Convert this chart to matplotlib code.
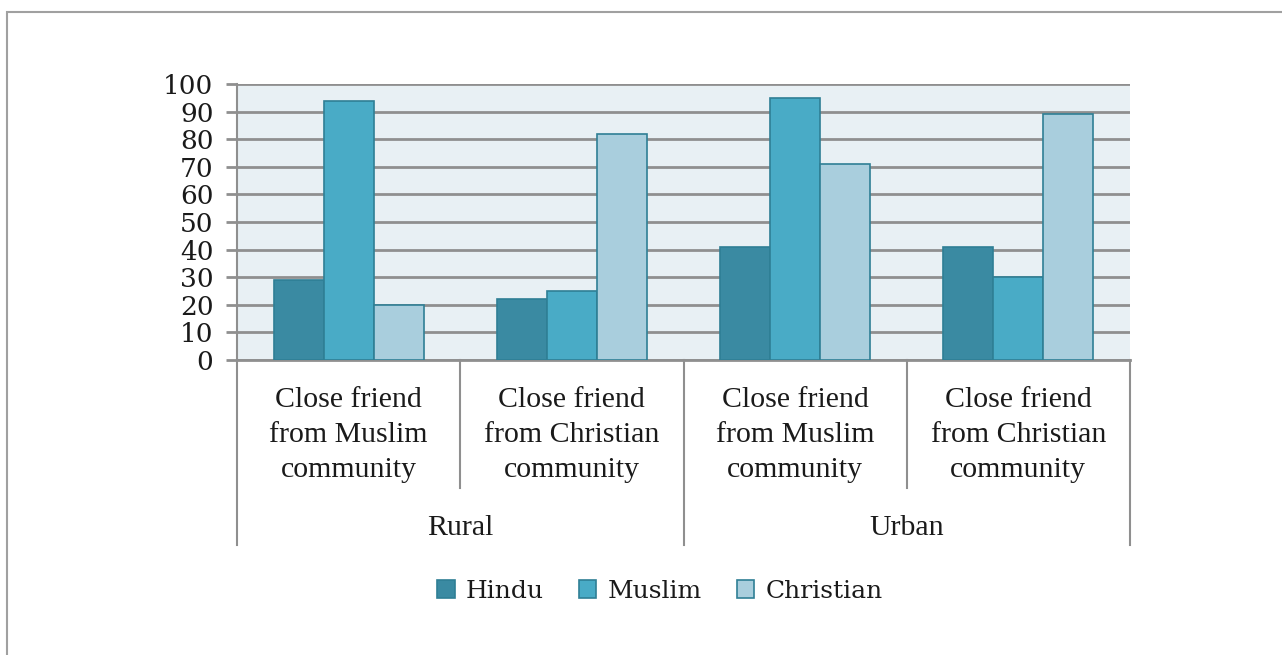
import matplotlib.pyplot as plt
from matplotlib.patches import Rectangle
from matplotlib.transforms import blended_transform_factory

# Share of respondents (%) with a close friend from another community
categories = [
    "Close friend\nfrom Muslim\ncommunity",
    "Close friend\nfrom Christian\ncommunity",
    "Close friend\nfrom Muslim\ncommunity",
    "Close friend\nfrom Christian\ncommunity",
]
groups = ["Rural", "Urban"]
series_names = ["Hindu", "Muslim", "Christian"]
hindu = [29, 22, 41, 41]
muslim = [94, 25, 95, 30]
christian = [20, 82, 71, 89]
y_ticks = list(range(0, 101, 10))

colors = ["#3a8aa2", "#49abc6", "#a9cedd"]
edge = "#2f7f95"
grid_gray = "#8f8f8f"
label_font = "Liberation Serif"
tick_font = "DejaVu Serif"

fig = plt.figure(figsize=(12.82, 6.55), dpi=100)
fig.patch.set_facecolor("white")

# thin frame around the whole chart
fig.add_artist(Rectangle((7 / 1282, -0.01), 1.1, 1 - 12 / 655 + 0.01, transform=fig.transFigure,
                         fill=False, edgecolor="#a0a0a0", linewidth=1.5))

ax = fig.add_axes([237 / 1282, 1 - 360 / 655, (1130 - 237) / 1282, (360 - 84) / 655])
ax.set_facecolor("#e8f0f4")

width = 0.224
xs = list(range(len(categories)))
for offset, values, color, name in zip([-1, 0, 1], [hindu, muslim, christian], colors, series_names):
    ax.bar([x + offset * width for x in xs], values, width=width, color=color,
           edgecolor=edge, linewidth=1.2, label=name, zorder=3)

ax.set_xlim(-0.5, len(categories) - 0.5)
ax.set_ylim(0, 100)
ax.set_yticks(y_ticks)
ax.set_yticklabels([str(t) for t in y_ticks], fontfamily=tick_font, fontsize=19, color="#1a1a1a")
ax.tick_params(axis="y", length=8, width=2, color=grid_gray, pad=9)
ax.yaxis.grid(True, color=grid_gray, linewidth=2, zorder=1)
ax.set_axisbelow(True)
ax.set_xticks([])

for side in ["top", "right"]:
    ax.spines[side].set_visible(False)
ax.spines["left"].set_color(grid_gray)
ax.spines["left"].set_linewidth(1.5)
ax.spines["bottom"].set_color(grid_gray)
ax.spines["bottom"].set_linewidth(2)

# two-level category axis with separators
trans = blended_transform_factory(ax.transData, ax.transAxes)
for i in range(len(categories) + 1):
    x = i - 0.5
    bottom = -0.67 if i % 2 == 0 else -0.464
    ax.plot([x, x], [0, bottom], transform=trans, color=grid_gray, linewidth=1.5, clip_on=False)

for x, label in zip(xs, categories):
    ax.text(x, -0.272, label, transform=trans, ha="center", va="center", fontfamily=label_font,
            fontsize=21.5, linespacing=1.45, color="#1a1a1a")

for g, name in enumerate(groups):
    ax.text(2 * g + 0.5, -0.609, name, transform=trans, ha="center", va="center",
            fontfamily=label_font, fontsize=21.5, color="#1a1a1a")

leg = fig.legend(loc="center", bbox_to_anchor=(660 / 1282, 1 - 591 / 655), ncol=3, frameon=False,
                 prop={"family": tick_font, "size": 18}, handlelength=0.7, handleheight=0.7,
                 handletextpad=0.45, columnspacing=1.4)
for text in leg.get_texts():
    text.set_color("#1a1a1a")

fig.savefig("out.png", dpi=100, facecolor="white")
